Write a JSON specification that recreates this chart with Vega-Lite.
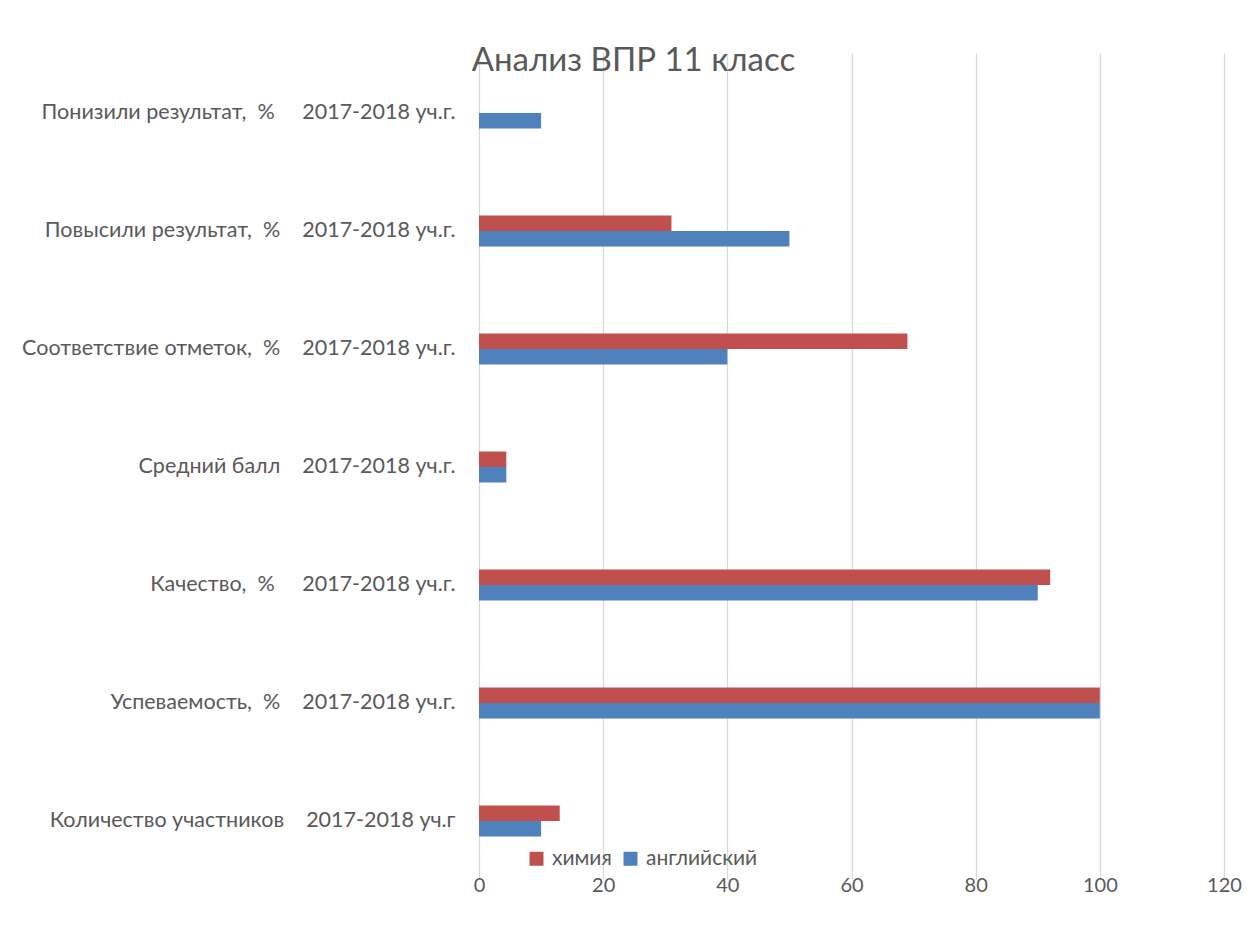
{
  "$schema": "https://vega.github.io/schema/vega-lite/v6.json",
  "width": 745,
  "height": 767,
  "autosize": {"type": "none"},
  "padding": {"left": 479, "top": 83, "right": 23, "bottom": 91},
  "background": "white",
  "title": {"text": "Анализ ВПР 11 класс", "fontSize": 33, "font": "Lato", "fontWeight": "normal", "color": "#595959", "anchor": "middle", "dx": -218, "offset": 5},
  "data": {"values": [
    {"category": "Понизили результат,\u00a0\u00a0%\u00a0\u00a0\u00a0\u00a0\u00a02017-2018 уч.г.", "subject": "химия", "value": 0},
    {"category": "Понизили результат,\u00a0\u00a0%\u00a0\u00a0\u00a0\u00a0\u00a02017-2018 уч.г.", "subject": "английский", "value": 10},
    {"category": "Повысили результат,\u00a0\u00a0%\u00a0\u00a0\u00a0\u00a02017-2018 уч.г.", "subject": "химия", "value": 31},
    {"category": "Повысили результат,\u00a0\u00a0%\u00a0\u00a0\u00a0\u00a02017-2018 уч.г.", "subject": "английский", "value": 50},
    {"category": "Соответствие отметок,\u00a0\u00a0%\u00a0\u00a0\u00a0\u00a02017-2018 уч.г.", "subject": "химия", "value": 69},
    {"category": "Соответствие отметок,\u00a0\u00a0%\u00a0\u00a0\u00a0\u00a02017-2018 уч.г.", "subject": "английский", "value": 40},
    {"category": "Средний балл\u00a0\u00a0\u00a0\u00a02017-2018 уч.г.", "subject": "химия", "value": 4.4},
    {"category": "Средний балл\u00a0\u00a0\u00a0\u00a02017-2018 уч.г.", "subject": "английский", "value": 4.4},
    {"category": "Качество,\u00a0\u00a0%\u00a0\u00a0\u00a0\u00a0\u00a02017-2018 уч.г.", "subject": "химия", "value": 92},
    {"category": "Качество,\u00a0\u00a0%\u00a0\u00a0\u00a0\u00a0\u00a02017-2018 уч.г.", "subject": "английский", "value": 90},
    {"category": "Успеваемость,\u00a0\u00a0%\u00a0\u00a0\u00a0\u00a02017-2018 уч.г.", "subject": "химия", "value": 100},
    {"category": "Успеваемость,\u00a0\u00a0%\u00a0\u00a0\u00a0\u00a02017-2018 уч.г.", "subject": "английский", "value": 100},
    {"category": "Количество участников\u00a0\u00a0\u00a0\u00a02017-2018 уч.г", "subject": "химия", "value": 13},
    {"category": "Количество участников\u00a0\u00a0\u00a0\u00a02017-2018 уч.г", "subject": "английский", "value": 10}
  ]},
  "mark": {"type": "bar"},
  "encoding": {
    "y": {
      "field": "category", "type": "nominal", "sort": null,
      "scale": {"range": [-29, 797], "paddingInner": 0, "paddingOuter": 0},
      "axis": {"title": null, "domain": false, "ticks": false, "labelPadding": 24, "labelFont": "Lato", "labelFontSize": 21.5, "labelColor": "#595959", "labelLimit": 700}
    },
    "yOffset": {
      "field": "subject", "type": "nominal", "sort": ["химия", "английский"],
      "scale": {"range": [43.5, 74.5], "paddingInner": 0, "paddingOuter": 0}
    },
    "x": {
      "field": "value", "type": "quantitative",
      "scale": {"domain": [0, 120], "nice": false},
      "axis": {"title": null, "values": [0, 20, 40, 60, 80, 100, 120], "grid": true, "gridColor": "#d9d9d9", "gridWidth": 1.3, "domain": false, "ticks": false, "labelFlush": false, "labelFont": "Lato", "labelFontSize": 20, "labelColor": "#595959", "labelPadding": 25}
    },
    "color": {
      "field": "subject", "type": "nominal",
      "scale": {"domain": ["химия", "английский"], "range": ["#C0504D", "#4F81BD"]},
      "legend": {"orient": "none", "legendX": 47, "legendY": 765, "direction": "horizontal", "title": null, "symbolType": "square", "symbolSize": 196, "symbolStrokeWidth": 0, "labelFont": "Lato", "labelFontSize": 21, "labelColor": "#595959", "labelOffset": 5, "columnPadding": 8}
    }
  },
  "config": {"view": {"stroke": null}}
}
